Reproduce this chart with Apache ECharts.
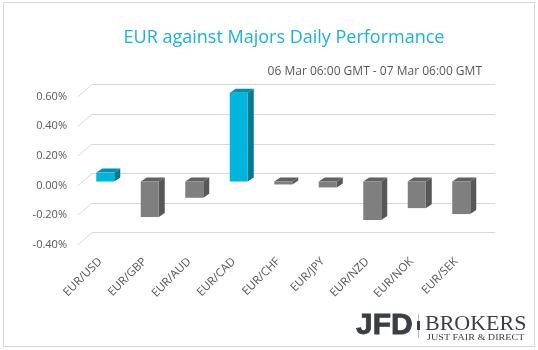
<!DOCTYPE html>
<html>
<head>
<meta charset="utf-8">
<script src="https://cdn.jsdelivr.net/npm/echarts@6/dist/echarts.min.js"></script>
<style>
  html, body { margin: 0; padding: 0; background: #fff; }
  #myChart { width: 538px; height: 350px; }
</style>
</head>
<body>
<div id="myChart"></div>
<script>
// data (daily change, %)
var pairs = ['EUR/USD', 'EUR/GBP', 'EUR/AUD', 'EUR/CAD', 'EUR/CHF', 'EUR/JPY', 'EUR/NZD', 'EUR/NOK', 'EUR/SEK'];
var changes = [0.06, -0.24, -0.11, 0.60, -0.02, -0.04, -0.26, -0.18, -0.22];
var ticks = [-0.4, -0.2, 0, 0.2, 0.4, 0.6];

var titleText = 'EUR against Majors Daily Performance';
var subText = '06 Mar 06:00 GMT - 07 Mar 06:00 GMT';

var labelColor = '#595959';
var gridColor = '#d9d9d9';
var logoColor = '#3b3e44';

function create_image() {
    var myChart = echarts.init(document.getElementById('myChart'));

    // 3d bar drawn on the front plane grid
    function renderBar(params, api) {
        var i = api.value(0);
        var v = api.value(1);
        var base = api.coord([i, 0]);
        var end = api.coord([i, v]);
        var w = 18, dx = 6, dy = 4;
        var shiftX = 5, shiftY = -4;
        var x0 = base[0] - w / 2 + shiftX;
        var yTop = Math.min(base[1], end[1]) + shiftY;
        var yBot = Math.max(base[1], end[1]) + shiftY;
        var pos = v >= 0;
        var front = pos ? '#00b4dc' : '#7f7f7f';
        var side = pos ? '#007a92' : '#575757';
        var top = pos ? '#0090ae' : '#616161';
        return {
            type: 'group',
            children: [
                {
                    type: 'polygon',
                    shape: { points: [[x0 + w, yTop], [x0 + w + dx, yTop - dy], [x0 + w + dx, yBot - dy], [x0 + w, yBot]] },
                    style: { fill: side }
                },
                {
                    type: 'polygon',
                    shape: { points: [[x0, yTop], [x0 + dx, yTop - dy], [x0 + w + dx, yTop - dy], [x0 + w, yTop]] },
                    style: { fill: top }
                },
                {
                    type: 'rect',
                    shape: { x: x0, y: yTop, width: w, height: yBot - yTop },
                    style: { fill: front }
                }
            ]
        };
    }

    // slanted lines joining tick labels to the back wall
    function renderSlant(params, api) {
        var p = api.coord([0, api.value(1)]);
        var x = params.coordSys.x;
        return {
            type: 'line',
            shape: { x1: x, y1: p[1], x2: x + 14, y2: p[1] - 12 },
            style: { stroke: gridColor, lineWidth: 1 }
        };
    }

    var barData = [];
    for (var i = 0; i < changes.length; i++) {
        barData.push([i, changes[i]]);
    }
    var slantData = [];
    for (var j = 0; j < ticks.length; j++) {
        slantData.push([0, ticks[j]]);
    }

    var option = {
        animation: false,
        backgroundColor: '#fff',
        textStyle: { fontFamily: 'Open Sans' },
        grid: [
            // front plane: labels and bars
            { left: 78, top: 96.7, width: 400.5, height: 148 },
            // back wall: gridlines
            { left: 92, top: 84.7, width: 403, height: 148 }
        ],
        xAxis: [
            {
                gridIndex: 0,
                type: 'category',
                data: pairs,
                axisLine: { show: false },
                axisTick: { show: false },
                axisLabel: {
                    rotate: 45,
                    margin: 15,
                    color: labelColor,
                    fontSize: 11.5,
                    fontFamily: 'Open Sans'
                }
            },
            {
                gridIndex: 1,
                type: 'category',
                data: pairs,
                axisLine: { show: false },
                axisTick: { show: false },
                axisLabel: { show: false },
                splitLine: { show: false }
            }
        ],
        yAxis: [
            {
                gridIndex: 0,
                type: 'value',
                min: -0.4,
                max: 0.6,
                interval: 0.2,
                splitLine: { show: false },
                axisLine: { show: false },
                axisTick: { show: false },
                axisLabel: {
                    margin: 11,
                    color: labelColor,
                    fontSize: 11,
                    fontFamily: 'Open Sans',
                    formatter: function (v) { return v.toFixed(2) + '%'; }
                }
            },
            {
                gridIndex: 1,
                type: 'value',
                min: -0.4,
                max: 0.6,
                interval: 0.2,
                axisLine: { show: false },
                axisTick: { show: false },
                axisLabel: { show: false },
                splitLine: { lineStyle: { color: gridColor, width: 1.2 } }
            }
        ],
        graphic: [
            {
                type: 'rect',
                shape: { x: 3.5, y: 2.5, width: 531, height: 344 },
                style: { fill: 'none', stroke: '#d9d9d9', lineWidth: 1 },
                z: 0
            },
            {
                type: 'text',
                x: 284, y: 38,
                style: {
                    text: titleText,
                    fill: '#1ab2da',
                    font: '18px "Open Sans"',
                    textAlign: 'center',
                    textVerticalAlign: 'middle'
                }
            },
            {
                type: 'text',
                x: 482, y: 72,
                style: {
                    text: subText,
                    fill: labelColor,
                    font: '12px "Open Sans"',
                    textAlign: 'right',
                    textVerticalAlign: 'middle'
                }
            },
            {
                type: 'text',
                x: 356, y: 326,
                style: {
                    text: 'JFD',
                    fill: logoColor,
                    stroke: logoColor,
                    lineWidth: 0.8,
                    font: 'bold 30px "Liberation Sans"',
                    textAlign: 'left',
                    textVerticalAlign: 'middle'
                }
            },
            {
                type: 'line',
                shape: { x1: 418.5, y1: 314, x2: 418.5, y2: 338 },
                style: { stroke: '#b8b9bb', lineWidth: 1 }
            },
            {
                type: 'line',
                shape: { x1: 418.5, y1: 321, x2: 418.5, y2: 330 },
                style: { stroke: logoColor, lineWidth: 3 }
            },
            {
                type: 'text',
                x: 425, y: 324,
                style: {
                    text: 'BROKERS',
                    fill: logoColor,
                    font: '22px "Liberation Serif"',
                    textAlign: 'left',
                    textVerticalAlign: 'middle'
                }
            },
            {
                type: 'text',
                x: 427, y: 338.5,
                scaleX: 1.35,
                style: {
                    text: 'JUST FAIR & DIRECT',
                    fill: logoColor,
                    font: '7.5px "Liberation Serif"',
                    textAlign: 'left',
                    textVerticalAlign: 'middle'
                }
            }
        ],
        series: [
            {
                type: 'custom',
                xAxisIndex: 0,
                yAxisIndex: 0,
                renderItem: renderSlant,
                data: slantData,
                silent: true,
                z: 1
            },
            {
                type: 'custom',
                xAxisIndex: 0,
                yAxisIndex: 0,
                renderItem: renderBar,
                data: barData,
                clip: false,
                z: 3
            }
        ]
    };
    myChart.setOption(option);
}

create_image();
</script>
</body>
</html>
